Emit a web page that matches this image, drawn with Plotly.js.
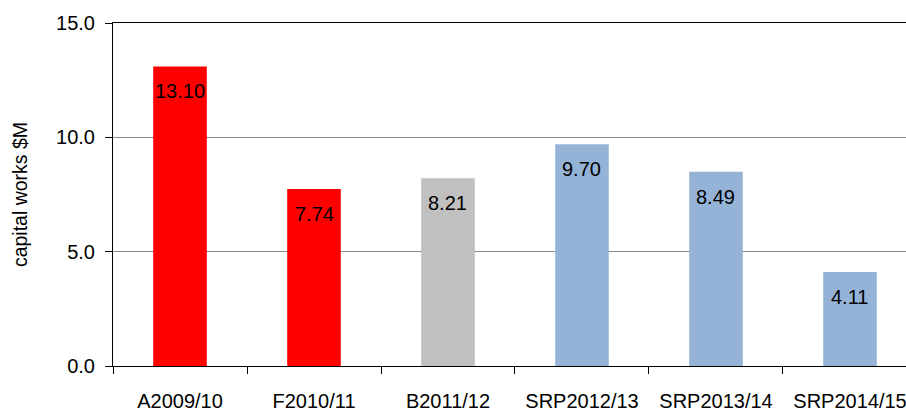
<!DOCTYPE html>
<html>
<head>
<meta charset="utf-8">
<script src="https://cdn.plot.ly/plotly-3.0.1.min.js"></script>
<style>html,body{margin:0;padding:0;background:#fff;}#chart{width:906px;height:412px;}</style>
</head>
<body>
<div id="chart"></div>
<script>
const categories = ["A2009/10", "F2010/11", "B2011/12", "SRP2012/13", "SRP2013/14", "SRP2014/15"];
const values = [13.10, 7.74, 8.21, 9.70, 8.49, 4.11];
const barColors = ["#FF0000", "#FF0000", "#C0C0C0", "#95B3D7", "#95B3D7", "#95B3D7"];
const yTickValues = [0, 5, 10, 15];

const FONT = "Liberation Sans, Arial, sans-serif";

const trace = {
  type: "bar",
  x: categories,
  y: values,
  width: 0.40,
  marker: {color: barColors, line: {width: 0}},
  hoverinfo: "skip"
};

const annotations = categories.map((c, i) => ({
  x: c,
  y: values[i],
  xref: "x",
  yref: "y",
  text: values[i].toFixed(2),
  showarrow: false,
  yanchor: "middle",
  yshift: -25,
  font: {family: FONT, size: 20, color: "#000"}
}));

const layout = {
  width: 906,
  height: 412,
  margin: {l: 113, r: 0, t: 23, b: 46},
  paper_bgcolor: "#fff",
  plot_bgcolor: "#fff",
  showlegend: false,
  font: {family: FONT, size: 20, color: "#000"},
  xaxis: {
    type: "category",
    range: [-0.5, 5.418],
    tickson: "boundaries",
    ticks: "outside",
    ticklen: 7,
    tickcolor: "#000",
    tickwidth: 1,
    showline: true,
    linecolor: "#000",
    linewidth: 1,
    mirror: true,
    showgrid: false,
    zeroline: false,
    ticklabelstandoff: 17,
    tickfont: {family: FONT, size: 20, color: "#000"},
    fixedrange: true
  },
  yaxis: {
    range: [0, 15],
    tickvals: yTickValues,
    tickformat: ".1f",
    ticks: "outside",
    ticklen: 7,
    tickcolor: "#000",
    showline: true,
    linecolor: "#000",
    linewidth: 1,
    showgrid: true,
    gridcolor: "#888",
    gridwidth: 1,
    zeroline: false,
    ticklabelstandoff: 6,
    tickfont: {family: FONT, size: 20, color: "#000"},
    title: {text: "capital works $M", font: {family: FONT, size: 19.5, color: "#000"}, standoff: 23},
    automargin: false,
    fixedrange: true
  },
  annotations: annotations
};

Plotly.newPlot("chart", [trace], layout, {displayModeBar: false, staticPlot: true});
</script>
</body>
</html>
